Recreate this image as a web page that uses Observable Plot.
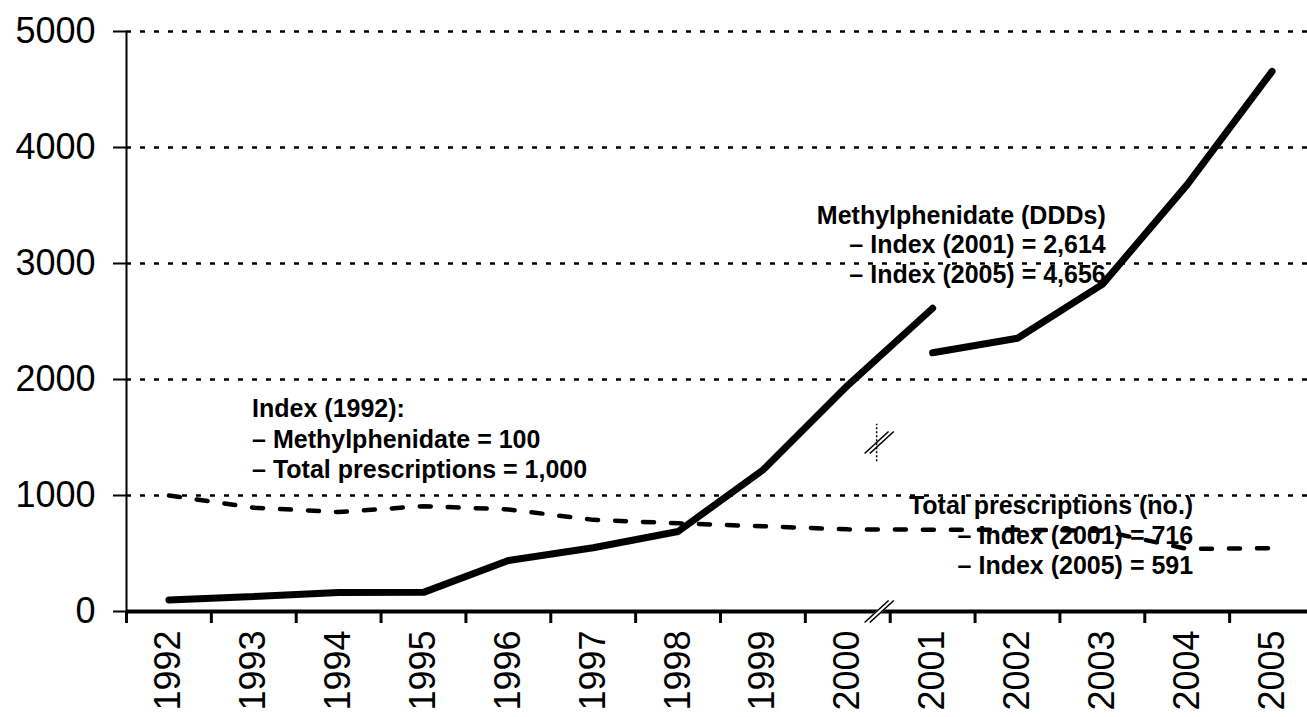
<!DOCTYPE html>
<html>
<head>
<meta charset="utf-8">
<script src="https://cdn.jsdelivr.net/npm/d3@7"></script>
<script src="https://cdn.jsdelivr.net/npm/@observablehq/plot@0.6"></script>
<style>
  body { margin: 0; background: #fff; }
  #chart svg { display: block; }
</style>
</head>
<body>
<div id="chart"></div>
<script>
// ---- Data (index values) ----
const years = [1992, 1993, 1994, 1995, 1996, 1997, 1998, 1999, 2000, 2001, 2002, 2003, 2004, 2005];

// Methylphenidate (DDDs), first series (index 1992 = 100)
const methYearsA = [1992, 1993, 1994, 1995, 1996, 1997, 1998, 1999, 2000, 2001];
const methValuesA = [100, 130, 163, 165, 440, 550, 690, 1220, 1950, 2614];

// Methylphenidate (DDDs), second series after the break
const methYearsB = [2001, 2002, 2003, 2004, 2005];
const methValuesB = [2230, 2356, 2820, 3680, 4656];

// Total prescriptions (no.) (index 1992 = 1,000)
const rxValues = [1000, 895, 857, 908, 880, 790, 760, 735, 708, 705, 705, 695, 540, 546];

const yTicks = [0, 1000, 2000, 3000, 4000, 5000];
const gridTicks = [1000, 2000, 3000, 4000, 5000];
const bandEdges = [1991.5, 1992.5, 1993.5, 1994.5, 1995.5, 1996.5, 1997.5, 1998.5, 1999.5, 2000.5, 2001.5, 2002.5, 2003.5, 2004.5];

const annoLeft = ["Index (1992):", "– Methylphenidate = 100", "– Total prescriptions = 1,000"];
const annoMeth = ["Methylphenidate (DDDs)", "– Index (2001) = 2,614", "– Index (2005) = 4,656"];
const annoRx = ["Total prescriptions (no.)", "– Index (2001) = 716", "– Index (2005) = 591"];

// axis-break markers (in data units)
const breakMarks = [{year: 2000.37, value: 0}, {year: 2000.37, value: 1457}];

// ---- Build tables ----
const methA = methYearsA.map((y, i) => ({year: y, value: methValuesA[i]}));
const methB = methYearsB.map((y, i) => ({year: y, value: methValuesB[i]}));
const rx = years.map((y, i) => ({year: y, value: rxValues[i]}));

const breakSymbol = {
  draw(ctx) {
    for (const o of [-2.6, 2.6]) {
      ctx.moveTo(-12 + o, 11);
      ctx.lineTo(12 + o, -11);
    }
  }
};
const gapSymbol = {
  draw(ctx) {
    ctx.moveTo(-12, 11);
    ctx.lineTo(12, -11);
  }
};

const font = "'Liberation Sans', Arial, Helvetica, sans-serif";

const chart = Plot.plot({
  width: 1307,
  height: 717,
  marginLeft: 126,
  marginRight: -7,
  marginTop: 31,
  marginBottom: 106,
  x: {domain: [1991.5, 2005.5]},
  y: {domain: [0, 5000]},
  style: {fontFamily: font, background: "#fff", color: "#000", overflow: "visible"},
  marks: [
    // dotted gridlines
    Plot.ruleY(gridTicks, {stroke: "#000", strokeWidth: 2.6, strokeDasharray: "5,9"}),
    // y axis
    Plot.axisY({ticks: yTicks, tickSize: 13, tickPadding: 18, fontSize: 36, strokeWidth: 2, tickFormat: d => String(d), label: null}),
    Plot.ruleX([1991.5], {y1: 0, y2: 5000, stroke: "#000", strokeWidth: 2}),
    // x axis ticks at category boundaries
    Plot.axisX({ticks: bandEdges, tickSize: 12, strokeWidth: 3, tickFormat: () => "", label: null}),
    // x labels at category centres
    Plot.axisX({ticks: years, tickSize: 0, tickPadding: 19, tickRotate: -90, fontSize: 36, tickFormat: d => String(d), label: null}),
    Plot.ruleY([0], {stroke: "#000", strokeWidth: 4}),
    // series
    Plot.line(rx, {x: "year", y: "value", stroke: "#000", strokeWidth: 4.5, strokeDasharray: "11,17"}),
    Plot.line(methA, {x: "year", y: "value", stroke: "#000", strokeWidth: 7, strokeLinecap: "round", strokeLinejoin: "miter"}),
    Plot.line(methB, {x: "year", y: "value", stroke: "#000", strokeWidth: 7, strokeLinecap: "round", strokeLinejoin: "miter"}),
    // break markers
    Plot.ruleX([2000.34], {y1: 1290, y2: 1615, stroke: "#000", strokeWidth: 1.5, strokeDasharray: "2,2"}),
    Plot.dot(breakMarks.slice(0, 1), {x: "year", y: "value", symbol: gapSymbol, r: 10, fill: "none", stroke: "#fff", strokeWidth: 5}),
    Plot.dot(breakMarks, {x: "year", y: "value", symbol: breakSymbol, r: 10, fill: "none", stroke: "#000", strokeWidth: 1.6}),
    // annotations
    Plot.text([annoLeft.join("\n")], {x: 1992.98, y: 1860, text: d => d, textAnchor: "start", lineAnchor: "top", fontSize: 25, fontWeight: "bold", lineHeight: 1.22, fill: "#000"}),
    Plot.text([annoMeth.join("\n")], {x: 2003.04, y: 3522, text: d => d, textAnchor: "end", lineAnchor: "top", fontSize: 25, fontWeight: "bold", lineHeight: 1.18, fill: "#000"}),
    Plot.text([annoRx.join("\n")], {x: 2004.07, y: 1020, text: d => d, textAnchor: "end", lineAnchor: "top", fontSize: 25, fontWeight: "bold", lineHeight: 1.2, fill: "#000"})
  ]
});

document.getElementById("chart").appendChild(chart);
</script>
</body>
</html>
